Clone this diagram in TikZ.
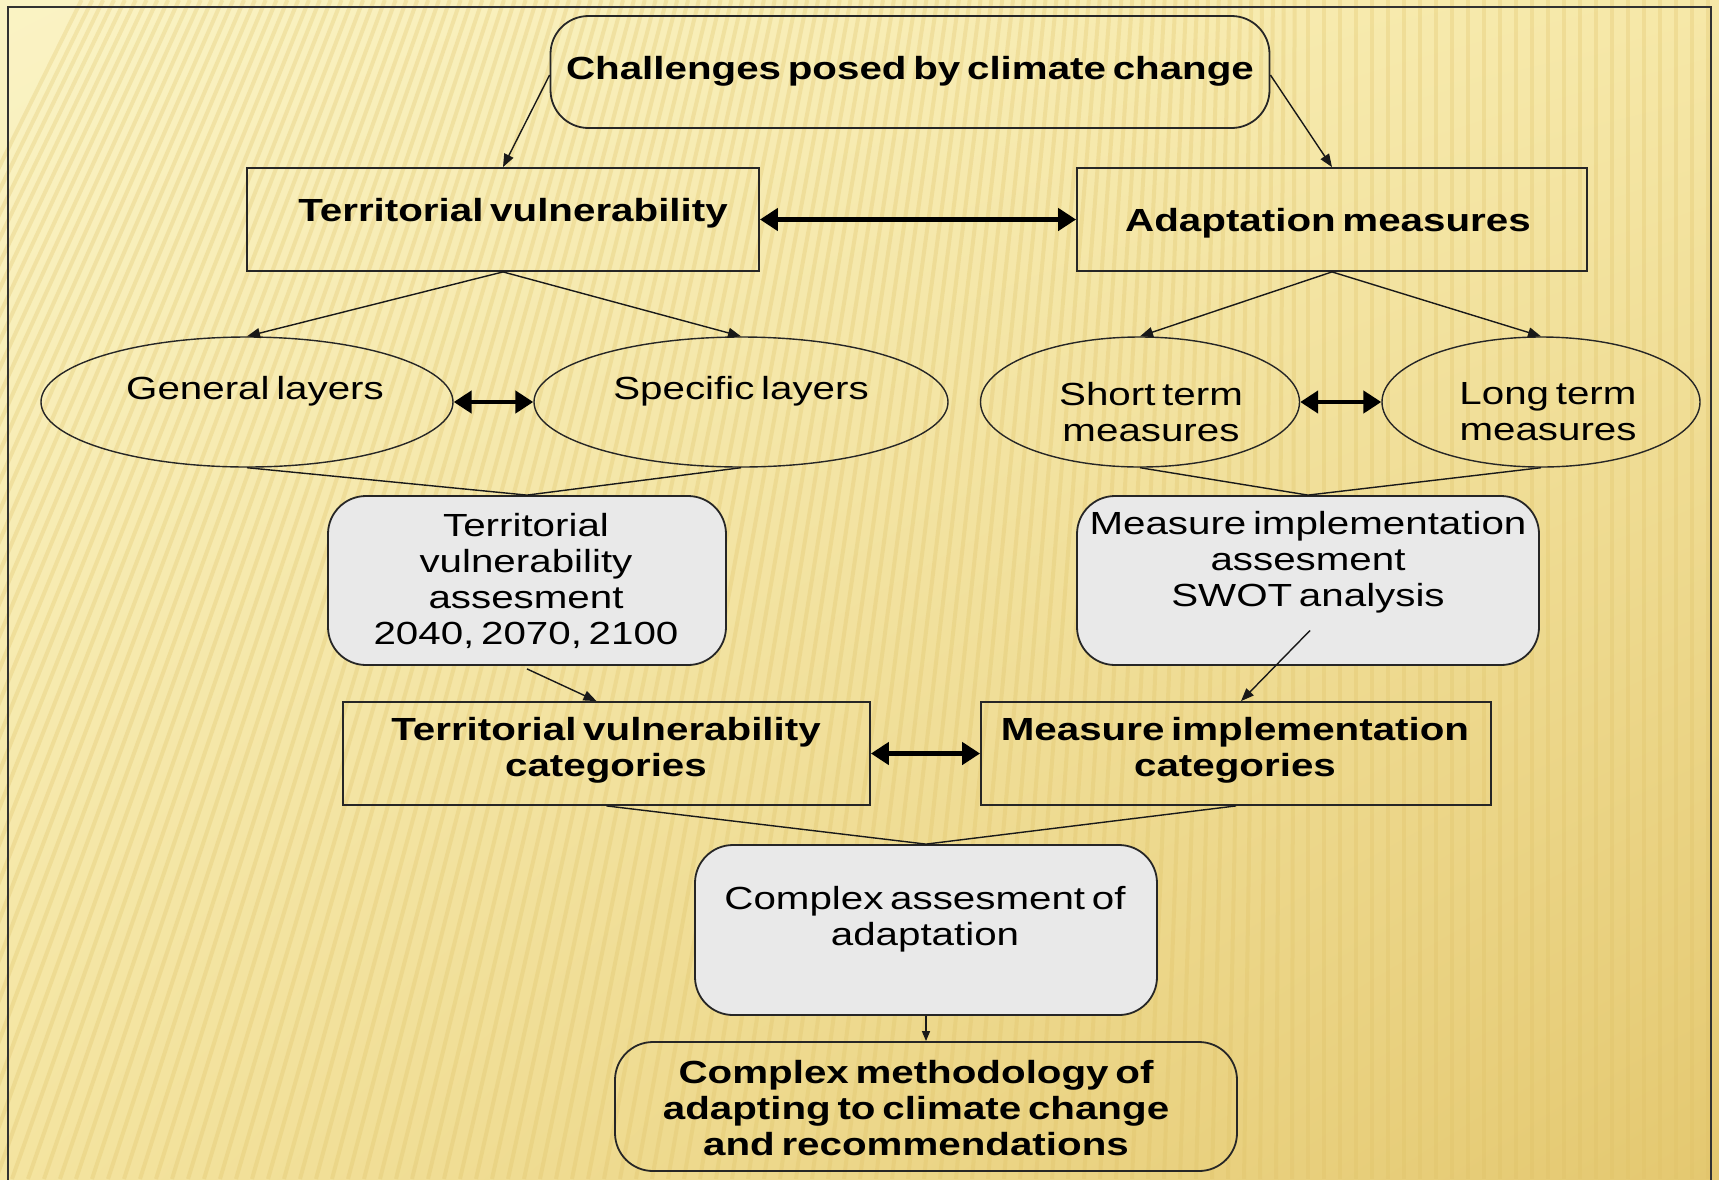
\documentclass[tikz,border=0pt]{standalone}
\usepackage{fontspec}
\setmainfont[FakeStretch=1.26,WordSpace=0.6]{Liberation Sans}
\usetikzlibrary{arrows.meta,shapes.geometric,calc,shadings}
\definecolor{bgA}{RGB}{250,243,196}
\definecolor{bgB}{RGB}{246,232,168}
\definecolor{bgC}{RGB}{244,228,160}
\definecolor{bgD}{RGB}{228,200,112}
\definecolor{stripe}{RGB}{222,192,100}
\definecolor{boxgray}{RGB}{233,233,233}
\definecolor{frame}{RGB}{50,50,50}
\begin{document}
\begin{tikzpicture}[x=1pt,y=-1pt,
  shp/.style={draw=black!85, line width=1.8pt, inner sep=0pt},
  rectbox/.style={shp, rectangle},
  rbox/.style={shp, rounded corners=38pt},
  gbox/.style={rbox, fill=boxgray},
  ell/.style={shp, ellipse, line width=1.4pt},
  txt/.style={inner sep=0pt, align=center, yshift=-3.5pt, font=\fontsize{32}{36}\selectfont},
  btxt/.style={txt, font=\fontsize{32}{36}\selectfont\bfseries},
  conn/.style={line width=1.4pt, black!90, -{Triangle[length=13pt,width=10pt]}},
  plain/.style={line width=1.4pt, black!90},
  dbl/.style={line width=4.5pt, {Triangle[length=18pt,width=22pt]}-{Triangle[length=18pt,width=22pt]}}
]
\useasboundingbox (0,0) rectangle (1719,1179);
% background
\shade[upper left=bgA, upper right=bgB, lower left=bgC, lower right=bgD] (0,0) rectangle (1719,1179);
\begin{scope}
\clip (0,0) rectangle (1719,1179);
\foreach \i in {0,...,140} {
  \pgfmathsetmacro\xb{-500+\i*16}
  \pgfmathsetmacro\sh{420*max(0,1-\xb/1300)}
  \draw[stripe, line width=4pt, opacity=0.28] (\xb+\sh,0) -- (\xb,1179);
}
\end{scope}
\draw[frame, line width=2.5pt] (8,1185) -- (8,7) -- (1711,7) -- (1711,1185);

% nodes
\node[rbox, minimum width=719pt, minimum height=112pt] (ch) at (910,72) {};
\node[btxt] (cht) at (910,68) {Challenges posed by climate change};

\node[rectbox, minimum width=512pt, minimum height=103pt] (tv) at (503,219.5) {};
\node[btxt] (tvt) at (513,210) {Territorial vulnerability};

\node[rectbox, minimum width=510pt, minimum height=103pt] (am) at (1332,219.5) {};
\node[btxt] (amt) at (1328,220) {Adaptation measures};

\node[ell, minimum width=412pt, minimum height=130pt] (gen) at (247,402) {};
\node[txt] (gent) at (255,388) {General layers};
\node[ell, minimum width=414pt, minimum height=130pt] (spec) at (741,402) {};
\node[txt] (spect) at (741,388) {Specific layers};
\node[ell, minimum width=319pt, minimum height=130pt] (short) at (1140,402) {};
\node[txt] (shortt) at (1151,409) {Short term\\measures};
\node[ell, minimum width=318pt, minimum height=130pt] (long) at (1541,402) {};
\node[txt] (longt) at (1548,408) {Long term\\measures};

\node[gbox, minimum width=398pt, minimum height=169pt] (tva) at (527,580.5) {};
\node[txt] (tvat) at (526,577) {Territorial\\vulnerability\\assesment\\2040, 2070, 2100};
\node[gbox, minimum width=462pt, minimum height=169pt] (mia) at (1308,580.5) {};
\node[txt] (miat) at (1308,559) {Measure implementation\\assesment\\SWOT analysis};

\node[rectbox, minimum width=527pt, minimum height=103pt] (tvc) at (606.5,753.5) {};
\node[btxt] (tvct) at (606,747) {Territorial vulnerability\\categories};
\node[rectbox, minimum width=510pt, minimum height=103pt] (mic) at (1236,753.5) {};
\node[btxt] (mict) at (1235,747) {Measure implementation\\categories};

\node[gbox, minimum width=462pt, minimum height=170pt] (caa) at (926,930) {};
\node[txt] (caat) at (925,916) {Complex assesment of\\adaptation};
\node[rbox, minimum width=622pt, minimum height=129pt] (cm) at (926,1106.5) {};
\node[btxt] (cmt) at (916,1105) {Complex methodology of\\adapting to climate change\\and recommendations};

% connectors
\coordinate (chl) at ($(ch.west)+(0,3)$);
\coordinate (chr) at ($(ch.east)+(0,3)$);
\draw[conn] (chl) -- (tv.north);
\draw[conn] (chr) -- (am.north);
\draw[dbl] (tv.east) -- (am.west);

\draw[conn] (tv.south) -- (gen.north);
\draw[conn] (tv.south) -- (spec.north);
\draw[conn] (am.south) -- (short.north);
\draw[conn] (am.south) -- (long.north);
\draw[dbl] (gen.east) -- (spec.west);
\draw[dbl] (short.east) -- (long.west);

\draw[plain] (gen.south) -- (tva.north) -- (spec.south);
\draw[plain] (short.south) -- (mia.north) -- (long.south);

\coordinate (tvaout) at ($(tva.south)+(0,3)$);
\coordinate (tvcin) at ($(tvc.north)+(-10,0)$);
\draw[conn] (tvaout) -- (tvcin);
\coordinate (miaout) at ($(mia.center)+(2,50)$);
\coordinate (micin) at ($(mic.north)+(5,0)$);
\draw[conn] (miaout) -- (micin);
\draw[dbl] (tvc.east) -- (mic.west);

\draw[plain] (tvc.south) -- (caa.north) -- (mic.south);
\draw[line width=1.4pt, black!90, -{Triangle[length=10pt,width=8pt]}] (caa.south) -- (cm.north);
\end{tikzpicture}
\end{document}
